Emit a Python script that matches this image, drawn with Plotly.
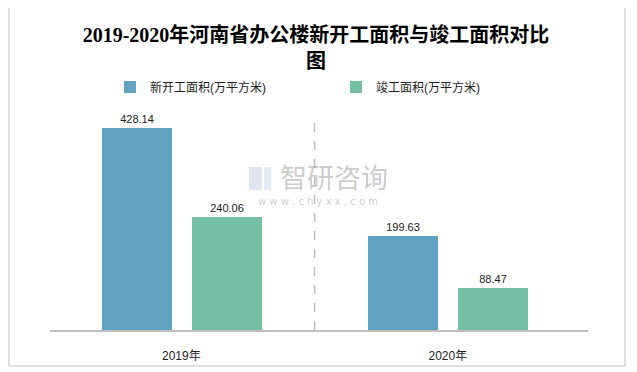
import plotly.graph_objects as go

categories = ["2019年", "2020年"]
new_start = [428.14, 199.63]
completed = [240.06, 88.47]
series_names = ["新开工面积(万平方米)", "竣工面积(万平方米)"]
colors = ["#62A3C3", "#75BFA5"]

# the page body adds an 8px offset; size the figure so it fits the window
OFF = 8
W, H = 637 - OFF, 372 - OFF
L, T = 50 - OFF, 118 - OFF
R = W - (588 - OFF)
B = H - (330 - OFF)
pw, ph = W - L - R, H - T - B

xpos = list(range(len(categories)))
fig = go.Figure()
for vals, name, col, off in [(new_start, series_names[0], colors[0], -0.299),
                             (completed, series_names[1], colors[1], 0.039)]:
    fig.add_trace(go.Bar(
        x=xpos, y=vals, name=name, marker=dict(color=col, line=dict(width=0)),
        width=0.262, offset=off,
        text=[f"{v:.2f}" for v in vals], textposition="outside",
        textfont=dict(size=11, color="#222222", family="Liberation Sans, Noto Sans CJK SC"),
        cliponaxis=False,
    ))

def px_x(p):
    return (p - OFF - L) / pw

def px_y(p):
    return (H - B - (p - OFF)) / ph

shapes = [
    # outer frame
    dict(type="rect", xref="paper", yref="paper", x0=px_x(9), x1=px_x(625), y0=px_y(366), y1=px_y(6),
         line=dict(color="#BFBFBF", width=1)),
    # divider
    dict(type="line", xref="x", yref="paper", x0=0.5, x1=0.5, y0=0, y1=px_y(117),
         line=dict(color="#BFBFBF", width=1.5, dash="dash")),
    # watermark logo (approximate)
    dict(type="rect", xref="paper", yref="paper", x0=px_x(249), x1=px_x(262), y0=px_y(190), y1=px_y(167),
         line=dict(width=0), fillcolor="rgba(150,170,210,0.30)"),
    dict(type="rect", xref="paper", yref="paper", x0=px_x(264), x1=px_x(271), y0=px_y(190), y1=px_y(167),
         line=dict(width=0), fillcolor="rgba(150,190,230,0.30)"),
]

annotations = [
    dict(text="智研咨询", xref="paper", yref="paper", x=px_x(334), y=px_y(176), showarrow=False,
         font=dict(size=27, color="rgba(140,140,140,0.45)", family="Noto Sans CJK SC"),
         xanchor="center", yanchor="middle"),
    dict(text="w w w . c h y x x . c o m", xref="paper", yref="paper", x=px_x(318), y=px_y(201),
         showarrow=False, font=dict(size=10, color="rgba(140,140,140,0.45)", family="DejaVu Sans"),
         xanchor="center", yanchor="middle"),
]

fig.update_layout(
    width=W, height=H,
    margin=dict(l=L, r=R, t=T, b=B, autoexpand=False),
    paper_bgcolor="white", plot_bgcolor="white",
    title=dict(text="<b>2019-2020年河南省办公楼新开工面积与竣工面积对比<br>图</b>",
               x=(316 - OFF) / W, xanchor="center", y=1 - (42 - OFF) / H, yanchor="middle",
               font=dict(size=20, color="#000000", family="Liberation Serif, Noto Sans CJK SC")),
    legend=dict(orientation="h", x=px_x(110), y=px_y(87), xanchor="left", yanchor="middle",
                entrywidth=181, entrywidthmode="pixels", itemwidth=30,
                font=dict(size=12, color="#222222", family="Liberation Sans, Noto Sans CJK SC"),
                bgcolor="rgba(0,0,0,0)"),
    xaxis=dict(range=[-0.493, 1.526], tickvals=xpos, ticktext=categories,
               showline=True, linecolor="#BFBFBF", linewidth=1.5, showgrid=False, zeroline=False,
               ticks="", ticklabelstandoff=14, fixedrange=True,
               tickfont=dict(size=12, color="#222222", family="Liberation Sans, Noto Sans CJK SC")),
    yaxis=dict(range=[0, 450], visible=False, showgrid=False, zeroline=False),
    shapes=shapes, annotations=annotations,
    bargap=0, font=dict(family="Liberation Sans, Noto Sans CJK SC"),
)

fig.write_html("out.html")
